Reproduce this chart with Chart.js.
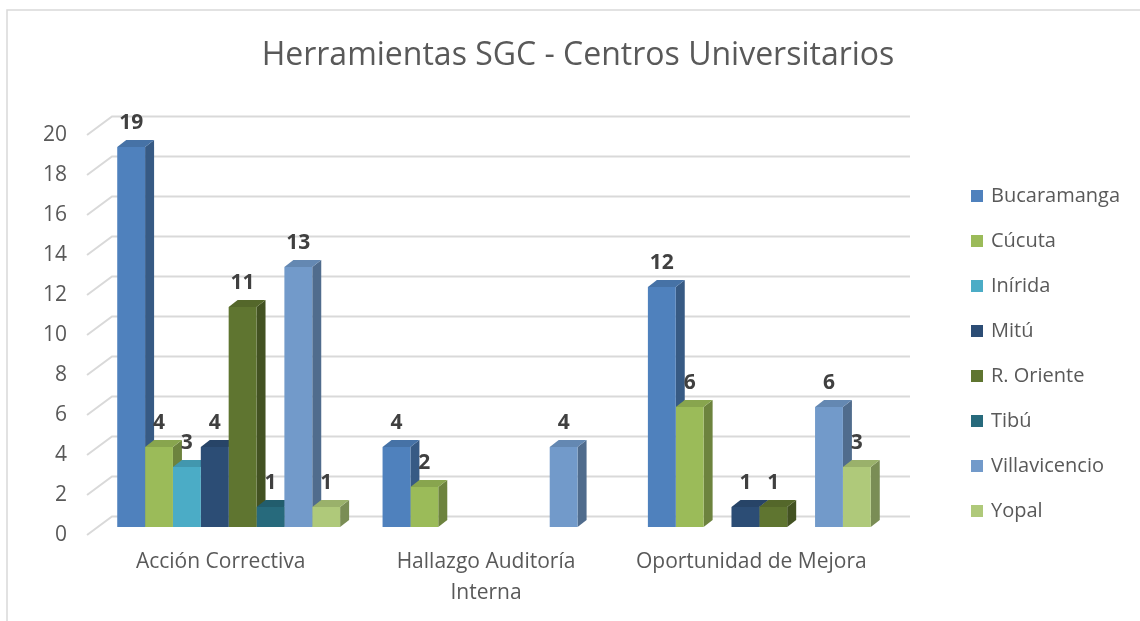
<!DOCTYPE html>
<html>
<head>
<meta charset="utf-8">
<script src="https://cdn.jsdelivr.net/npm/chart.js@4.4.0/dist/chart.umd.min.js"></script>
<style>
  html, body { margin: 0; padding: 0; background: #fff; }
</style>
</head>
<body>
<canvas id="sgc-chart" width="1140" height="621"></canvas>
<script>
// ---------- data ----------
const categories = ['Acción Correctiva', ['Hallazgo Auditoría', 'Interna'], 'Oportunidad de Mejora'];
const centros = ['Bucaramanga', 'Cúcuta', 'Inírida', 'Mitú', 'R. Oriente', 'Tibú', 'Villavicencio', 'Yopal'];

const bucaramanga   = [19, 4, 12];
const cucuta        = [4, 2, 6];
const inirida       = [3, null, null];
const mitu          = [4, null, 1];
const rOriente      = [11, null, 1];
const tibu          = [1, null, null];
const villavicencio = [13, 4, 6];
const yopal         = [1, null, 3];

const series = [bucaramanga, cucuta, inirida, mitu, rOriente, tibu, villavicencio, yopal];
const barColors = ['#4F81BD', '#9BBB59', '#4BACC6', '#2C4D75', '#5F7530', '#276A7C', '#729ACA', '#AFC97A'];

const chartTitle = 'Herramientas SGC - Centros Universitarios';
const textColor = '#595959';
const fontFamily = "'Open Sans', 'Noto Sans', sans-serif";

// ---------- helpers ----------
const depth = { dx: 9, dy: -7 };

const shade = (hex, f) => {
  const n = parseInt(hex.slice(1), 16);
  const r = Math.round(((n >> 16) & 255) * f);
  const g = Math.round(((n >> 8) & 255) * f);
  const b = Math.round((n & 255) * f);
  return `rgb(${r},${g},${b})`;
};

const poly = (ctx, pts, fill) => {
  ctx.beginPath();
  ctx.moveTo(pts[0][0], pts[0][1]);
  for (let k = 1; k < pts.length; k++) ctx.lineTo(pts[k][0], pts[k][1]);
  ctx.closePath();
  ctx.fillStyle = fill;
  ctx.fill();
};

// frame, title and legend
const decorPlugin = {
  id: 'decor',
  beforeDraw(chart) {
    const { ctx } = chart;
    ctx.save();
    ctx.strokeStyle = '#d9d9d9';
    ctx.lineWidth = 1.5;
    ctx.beginPath();
    ctx.moveTo(7, 640);
    ctx.lineTo(7, 10);
    ctx.lineTo(1160, 10);
    ctx.stroke();
    ctx.restore();
  },
  afterDraw(chart) {
    const { ctx } = chart;
    ctx.save();
    ctx.fillStyle = textColor;
    ctx.font = `32px ${fontFamily}`;
    ctx.textAlign = 'center';
    ctx.textBaseline = 'alphabetic';
    ctx.fillText(chartTitle, 578, 65);

    ctx.font = `20px ${fontFamily}`;
    ctx.textAlign = 'left';
    ctx.textBaseline = 'middle';
    chart.data.datasets.forEach((ds, i) => {
      const cy = 196 + i * 45;
      ctx.fillStyle = ds.backgroundColor;
      ctx.fillRect(971, cy - 6, 12, 12);
      ctx.fillStyle = textColor;
      ctx.fillText(ds.label, 991, cy);
    });
    ctx.restore();
  }
};

// 3D look: back wall grid, bar sides and tops, value labels
const cubePlugin = {
  id: 'cube',
  beforeDatasetsDraw(chart) {
    const { ctx, chartArea, scales: { y } } = chart;
    ctx.save();
    ctx.strokeStyle = '#d9d9d9';
    ctx.lineWidth = 2;
    y.ticks.forEach(t => {
      const py = y.getPixelForValue(t.value);
      ctx.beginPath();
      ctx.moveTo(chartArea.left - 9, py + 8);
      ctx.lineTo(chartArea.left + 16, py - 10.5);
      ctx.lineTo(chartArea.right + 18, py - 10.5);
      ctx.stroke();
    });

    chart.data.datasets.forEach((ds, i) => {
      const meta = chart.getDatasetMeta(i);
      meta.data.forEach((bar, j) => {
        if (ds.data[j] == null) return;
        const { x, y: top, base, width } = bar.getProps(['x', 'y', 'base', 'width'], true);
        const l = x - width / 2, r = x + width / 2;
        poly(ctx, [[r, top], [r + depth.dx, top + depth.dy], [r + depth.dx, base + depth.dy], [r, base]],
          shade(barColors[i], 0.7));
        poly(ctx, [[l, top], [l + depth.dx, top + depth.dy], [r + depth.dx, top + depth.dy], [r, top]],
          shade(barColors[i], 0.88));
      });
    });
    ctx.restore();
  },
  afterDatasetsDraw(chart) {
    const { ctx } = chart;
    ctx.save();
    ctx.fillStyle = '#404040';
    ctx.font = `bold 21px ${fontFamily}`;
    ctx.textAlign = 'center';
    ctx.textBaseline = 'middle';
    chart.data.datasets.forEach((ds, i) => {
      const meta = chart.getDatasetMeta(i);
      meta.data.forEach((bar, j) => {
        if (ds.data[j] == null) return;
        ctx.fillText(String(ds.data[j]), bar.x, bar.y - 24);
      });
    });
    ctx.restore();
  }
};

// ---------- chart ----------
const canvas = document.getElementById('sgc-chart');

new Chart(canvas, {
  type: 'bar',
  data: {
    labels: categories,
    datasets: centros.map((name, i) => ({
      label: name,
      data: series[i],
      backgroundColor: barColors[i],
      borderWidth: 0,
      categoryPercentage: 0.84,
      barPercentage: 1
    }))
  },
  options: {
    responsive: false,
    animation: false,
    layout: { padding: { top: 127, right: 248, left: 0, bottom: 0 } },
    plugins: {
      legend: { display: false },
      tooltip: { enabled: false }
    },
    scales: {
      x: {
        grid: { display: false, drawTicks: false },
        border: { display: false },
        ticks: {
          color: textColor,
          font: { family: fontFamily, size: 21, lineHeight: 1.45 },
          padding: 20,
          labelOffset: -8,
          maxRotation: 0,
          autoSkip: false
        },
        afterFit(scale) { scale.height = 94; }
      },
      y: {
        min: 0,
        max: 20,
        grid: { display: false, drawTicks: false },
        border: { display: false },
        ticks: {
          stepSize: 2,
          color: textColor,
          font: { family: fontFamily, size: 21 },
          padding: 29,
          labelOffset: 8
        },
        afterFit(scale) { scale.width = 96; }
      }
    }
  },
  plugins: [decorPlugin, cubePlugin]
});
</script>
</body>
</html>
